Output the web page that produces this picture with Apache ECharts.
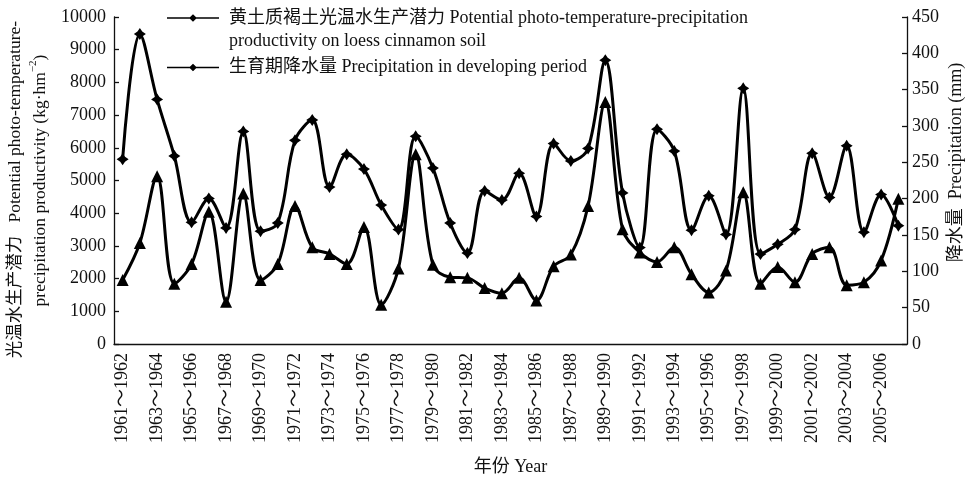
<!DOCTYPE html>
<html>
<head>
<meta charset="utf-8">
<script src="https://cdn.jsdelivr.net/npm/echarts@6/dist/echarts.min.js"></script>
<style>
html,body{margin:0;padding:0;background:#fff;}
#chart{width:974px;height:480px;}
</style>
</head>
<body>
<div id="chart"></div>
<script>
// ---- data ----
const categories = [
  '1961～1962','1962～1963','1963～1964','1964～1965','1965～1966','1966～1967','1967～1968','1968～1969',
  '1969～1970','1970～1971','1971～1972','1972～1973','1973～1974','1974～1975','1975～1976','1976～1977',
  '1977～1978','1978～1979','1979～1980','1980～1981','1981～1982','1982～1983','1983～1984','1984～1985',
  '1985～1986','1986～1987','1987～1988','1988～1989','1989～1990','1990～1991','1991～1992','1992～1993',
  '1993～1994','1994～1995','1995～1996','1996～1997','1997～1998','1998～1999','1999～2000','2000～2001',
  '2001～2002','2002～2003','2003～2004','2004～2005','2005～2006','2006～2007'
];
// 光温水生产潜力 (kg·hm-2), left axis
const productivity = [5650,9480,7480,5750,3720,4450,3550,6500,3450,3700,6230,6850,4800,5800,5350,4250,
  3500,6350,5380,3700,2780,4680,4400,5220,3900,6130,5600,5980,8680,4620,2950,6570,5900,3480,4530,3350,
  7820,2750,3050,3500,5830,4480,6060,3420,4570,3620];
// 生育期降水量 (mm), right axis
const precipitation = [88,139,231,83,110,182,58,207,88,110,190,133,124,110,161,54,104,261,109,92,91,77,
  70,91,60,107,123,190,333,158,126,113,133,96,71,101,209,83,106,85,124,133,81,85,115,200];
const leftTicks = {min:0, max:10000, interval:1000};
const rightTicks = {min:0, max:450, interval:50};
const name1 = '黄土质褐土光温水生产潜力 Potential photo-temperature-precipitation\nproductivity on loess cinnamon soil';
const name2 = '生育期降水量 Precipitation in developing period';

const FONT = '"Liberation Serif","Times New Roman","Noto Sans CJK SC",serif';
const starPath = 'path://M0,-10 L4,-4 L10,0 L4,4 L0,10 L-4,4 L-10,0 L-4,-4 Z';
const legendIcon = 'path://M0,4.3 L22,4.3 L25,1.5 L28,4.3 L50,4.3 L50,5.7 L28,5.7 L25,8.5 L22,5.7 L0,5.7 Z';
const FS = 18;
const NFS = 17.5;

const chart = echarts.init(document.getElementById('chart'), null, {renderer:'canvas'});
const axisLineStyle = {color:'#111', width:1.3};
chart.setOption({
  animation:false,
  backgroundColor:'#fff',
  textStyle:{fontFamily:FONT},
  grid:{left:114, right:67, top:17, bottom:136, containLabel:false, outerBoundsMode:'none'},
  legend:[
    {data:[{name:name1, icon:legendIcon}], left:167, top:-16.5, padding:0, orient:'vertical',
     itemWidth:52, itemHeight:10, selectedMode:false,
     formatter:function(n){ return '\n' + n; },
     textStyle:{fontFamily:FONT, fontSize:FS, color:'#111', lineHeight:23, padding:[0,0,0,5]}},
    {data:[{name:name2, icon:legendIcon}], left:167, top:56, padding:0, orient:'vertical',
     itemWidth:52, itemHeight:10, selectedMode:false,
     textStyle:{fontFamily:FONT, fontSize:FS, color:'#111', lineHeight:23, padding:[0,0,0,5]}}
  ],
  xAxis:{
    type:'category', data:categories, boundaryGap:true,
    name:'年份 Year', nameLocation:'middle', nameGap:114, nameMoveOverlap:false,
    nameTextStyle:{fontFamily:FONT, fontSize:FS, color:'#111'},
    axisLine:{lineStyle:axisLineStyle},
    axisTick:{inside:true, length:5, interval:0, lineStyle:axisLineStyle},
    axisLabel:{interval:1, rotate:90, margin:9, fontFamily:FONT, fontSize:FS, color:'#111'},
    splitLine:{show:false}
  },
  yAxis:[
    {type:'value', min:leftTicks.min, max:leftTicks.max, interval:leftTicks.interval, position:'left',
     name:'{a|光温水生产潜力   Potential photo-temperature-}\n{n|precipitation productivity (kg·hm}{s|−2}{n|)}',
     nameLocation:'middle', nameGap:61, nameRotate:90, nameMoveOverlap:false,
     nameTextStyle:{fontFamily:FONT, fontSize:NFS, color:'#111', lineHeight:25, align:'center',
       rich:{a:{fontFamily:FONT, fontSize:NFS, color:'#111', padding:[0,18,0,0]},
             n:{fontFamily:FONT, fontSize:NFS, color:'#111'},
             s:{fontFamily:FONT, fontSize:11, color:'#111', verticalAlign:'top', padding:[0,0,8,0]}}},
     axisLine:{show:true, lineStyle:axisLineStyle},
     axisTick:{show:true, inside:true, length:5, lineStyle:axisLineStyle},
     axisLabel:{margin:8, fontFamily:FONT, fontSize:FS, color:'#111', formatter:function(v){return String(v);}},
     splitLine:{show:false}},
    {type:'value', min:rightTicks.min, max:rightTicks.max, interval:rightTicks.interval, position:'right',
     name:'降水量  Precipitation (mm)', nameLocation:'middle', nameGap:40, nameRotate:90, nameMoveOverlap:false,
     nameTextStyle:{fontFamily:FONT, fontSize:FS, color:'#111', padding:[0,0,0,36]},
     axisLine:{show:true, lineStyle:axisLineStyle},
     axisTick:{show:true, inside:true, length:5, lineStyle:axisLineStyle},
     axisLabel:{margin:5, fontFamily:FONT, fontSize:FS, color:'#111', formatter:function(v){return String(v);}},
     splitLine:{show:false}}
  ],
  series:[
    {name:name1, type:'line', yAxisIndex:0, data:productivity, smooth:0.35, showAllSymbol:true,
     symbol:starPath, symbolSize:12, itemStyle:{color:'#000'},
     lineStyle:{color:'#000', width:3}},
    {name:name2, type:'line', yAxisIndex:1, data:precipitation, smooth:0.35, showAllSymbol:true,
     symbol:'triangle', symbolSize:12, itemStyle:{color:'#000'},
     lineStyle:{color:'#000', width:3}}
  ]
});
</script>
</body>
</html>
